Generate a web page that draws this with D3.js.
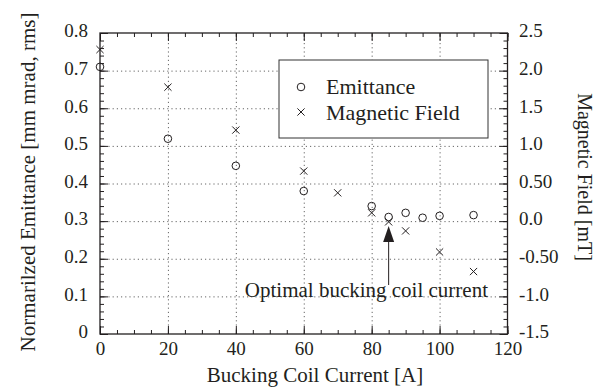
<!DOCTYPE html>
<meta charset="utf-8">
<head>
<script src="https://d3js.org/d3.v7.min.js"></script>
<style>
body { margin: 0; background: #fff; }
svg text { font-family: "Liberation Serif", "Times New Roman", serif; fill: #231f20; }
.grid line { stroke: #666; stroke-dasharray: 1.2,3; stroke-width: 1; }
.grid path { stroke-width: 0; }
.axis path { stroke-width: 0; }
.axis line { stroke: #231f20; stroke-width: 1; }
.axis text { font-size: 19px; }
</style>
</head>
<body>
<svg></svg>
<script>
// Emittance series (left axis)
var current_em = [0, 20, 40, 60, 80, 85, 90, 95, 100, 110];
var emittance = [0.71, 0.519, 0.447, 0.38, 0.34, 0.311, 0.322, 0.309, 0.314, 0.316];

// Magnetic field series (right axis, mT)
var current_bf = [0, 20, 40, 60, 70, 80, 85, 90, 100, 110];
var field = [2.28, 1.78, 1.21, 0.665, 0.376, 0.11, -0.01, -0.13, -0.41, -0.67];

// tick labels
var x_ticks = [0, 20, 40, 60, 80, 100, 120];
var left_ticks = [0, 0.1, 0.2, 0.3, 0.4, 0.5, 0.6, 0.7, 0.8];
var left_labels = ["0", "0.1", "0.2", "0.3", "0.4", "0.5", "0.6", "0.7", "0.8"];
var right_ticks = [2.5, 2.0, 1.5, 1.0, 0.5, 0.0, -0.5, -1.0, -1.5];
var right_labels = ["2.5", "2.0", "1.5", "1.0", "0.50", "0.0", "-0.50", "-1.0", "-1.5"];

var width = 600, height = 389;
var m_left = 100, m_right = 507.5, m_top = 33, m_bottom = 334;

var x = d3.scaleLinear().domain([0, 120]).range([m_left, m_right]);
var y = d3.scaleLinear().domain([0, 0.8]).range([m_bottom, m_top]);
var y2 = d3.scaleLinear().domain([-1.5, 2.5]).range([m_bottom, m_top]);

var svg = d3.select("svg").attr("width", width).attr("height", height);

// Gridlines
svg.append("g")
    .attr("class", "grid")
    .attr("transform", "translate(0," + m_bottom + ")")
    .call(d3.axisBottom(x).tickValues([20, 40, 60, 80, 100]).tickSize(-(m_bottom - m_top)).tickFormat(''));
svg.append("g")
    .attr("class", "grid")
    .attr("transform", "translate(" + m_left + ",0)")
    .call(d3.axisLeft(y).tickValues([0.1, 0.2, 0.3, 0.4, 0.5, 0.6, 0.7]).tickSize(-(m_right - m_left)).tickFormat(''));

// minor ticks
var minor_x = d3.range(0, 121, 5);
var minor_y = d3.range(0, 0.801, 0.02);
var minor_y2 = d3.range(-1.5, 2.501, 0.1);

// Bottom axis
svg.append("g").attr("class", "axis")
    .attr("transform", "translate(0," + m_bottom + ")")
    .call(d3.axisBottom(x).tickValues(minor_x).tickSize(-4).tickSizeOuter(0).tickFormat(''));
svg.append("g").attr("class", "axis")
    .attr("transform", "translate(0," + m_bottom + ")")
    .call(d3.axisBottom(x).tickValues(x_ticks).tickSize(-8).tickSizeOuter(0).tickPadding(7.5).tickFormat(d3.format("d")));

// Top axis
svg.append("g").attr("class", "axis")
    .attr("transform", "translate(0," + m_top + ")")
    .call(d3.axisTop(x).tickValues(minor_x).tickSize(-4).tickSizeOuter(0).tickFormat(''));
svg.append("g").attr("class", "axis")
    .attr("transform", "translate(0," + m_top + ")")
    .call(d3.axisTop(x).tickValues(x_ticks).tickSize(-8).tickSizeOuter(0).tickFormat(''));

// Left axis
svg.append("g").attr("class", "axis")
    .attr("transform", "translate(" + m_left + ",0)")
    .call(d3.axisLeft(y).tickValues(minor_y).tickSize(-4).tickSizeOuter(0).tickFormat(''));
svg.append("g").attr("class", "axis")
    .attr("transform", "translate(" + m_left + ",0)")
    .call(d3.axisLeft(y).tickValues(left_ticks).tickSize(-8).tickSizeOuter(0).tickPadding(12)
        .tickFormat(function(d, i) { return left_labels[i]; }))
    .selectAll("text").attr("dy", "0.2em");

// Right axis
svg.append("g").attr("class", "axis")
    .attr("transform", "translate(" + m_right + ",0)")
    .call(d3.axisRight(y2).tickValues(minor_y2).tickSize(-4).tickSizeOuter(0).tickFormat(''));
svg.append("g").attr("class", "axis")
    .attr("transform", "translate(" + m_right + ",0)")
    .call(d3.axisRight(y2).tickValues(right_ticks).tickSize(-8).tickSizeOuter(0).tickPadding(11.5)
        .tickFormat(function(d, i) { return right_labels[i]; }))
    .selectAll("text").attr("dy", "0.2em");

// Frame
svg.append("rect")
    .attr("x", m_left).attr("y", m_top)
    .attr("width", m_right - m_left).attr("height", m_bottom - m_top)
    .style("fill", "none").style("stroke", "#231f20").style("stroke-width", "1.3px");

// Axis titles
svg.append("text")
    .attr("x", 315).attr("y", 382)
    .attr("text-anchor", "middle")
    .style("font-size", "21px")
    .text("Bucking Coil Current [A]");

svg.append("text")
    .attr("transform", "translate(35,182) rotate(-90)")
    .attr("text-anchor", "middle")
    .style("font-size", "21px")
    .text("Normarilzed Emittance [mm mrad, rms]");

svg.append("text")
    .attr("transform", "translate(578,177) rotate(90)")
    .attr("text-anchor", "middle")
    .style("font-size", "20px")
    .text("Magnetic Field [mT]");

// Emittance circles
svg.append("g").selectAll("circle")
    .data(current_em)
    .enter().append("circle")
    .attr("cx", function(d) { return x(d); })
    .attr("cy", function(d, i) { return y(emittance[i]); })
    .attr("r", 3.8)
    .style("fill", "none").style("stroke", "#231f20").style("stroke-width", "1px");

// Magnetic field crosses
var cs = 3.6;
svg.append("g").selectAll("path")
    .data(current_bf)
    .enter().append("path")
    .attr("d", function(d, i) {
        var cx = x(d), cy = y2(field[i]);
        return "M" + (cx - cs) + "," + (cy - cs) + "L" + (cx + cs) + "," + (cy + cs) +
               "M" + (cx - cs) + "," + (cy + cs) + "L" + (cx + cs) + "," + (cy - cs);
    })
    .style("fill", "none").style("stroke", "#231f20").style("stroke-width", "1px");

// Legend
var legend = svg.append("g");
legend.append("rect")
    .attr("x", 279).attr("y", 60).attr("width", 209).attr("height", 78)
    .style("fill", "#fff").style("stroke", "#333").style("stroke-width", "1px");
legend.append("circle")
    .attr("cx", 301).attr("cy", 87).attr("r", 3.8)
    .style("fill", "none").style("stroke", "#231f20");
legend.append("path")
    .attr("d", "M" + (301 - cs) + "," + (112 - cs) + "L" + (301 + cs) + "," + (112 + cs) +
               "M" + (301 - cs) + "," + (112 + cs) + "L" + (301 + cs) + "," + (112 - cs))
    .style("fill", "none").style("stroke", "#231f20");
legend.append("text").attr("x", 326).attr("y", 94).style("font-size", "22px").text("Emittance");
legend.append("text").attr("x", 326).attr("y", 120).style("font-size", "22px").text("Magnetic Field");

// Annotation arrow
var ax = x(85);
svg.append("line")
    .attr("x1", ax).attr("x2", ax).attr("y1", 285).attr("y2", 240)
    .style("stroke", "#231f20").style("stroke-width", "1px");
svg.append("path")
    .attr("d", "M" + ax + ",226L" + (ax - 5.5) + ",242L" + (ax + 5.5) + ",242Z")
    .style("fill", "#231f20");
svg.append("text")
    .attr("x", 488).attr("y", 297)
    .attr("text-anchor", "end")
    .style("font-size", "21px")
    .text("Optimal bucking coil current");
</script>
</body>
</html>
